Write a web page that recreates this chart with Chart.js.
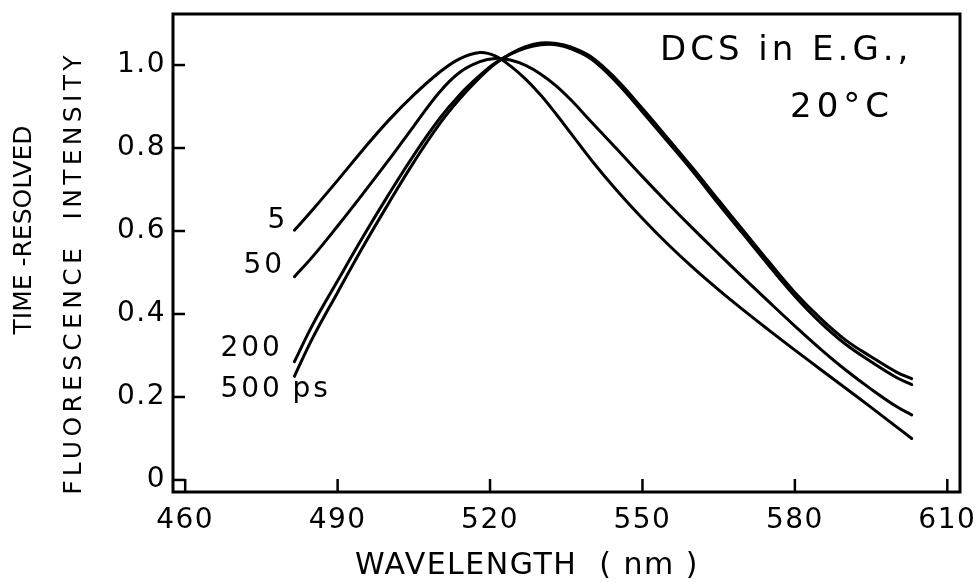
<!DOCTYPE html>
<html><head><meta charset="utf-8">
<script src="https://cdn.jsdelivr.net/npm/chart.js@4/dist/chart.umd.min.js"></script>
<style>html,body{margin:0;padding:0;background:#fff;}canvas{display:block;}</style>
</head><body>
<canvas id="c" width="977" height="582"></canvas>
<script>
// ---- data ----
const wavelengths = [481.5,485,490,495,500,505,510,514,518,521,524,527,530,533,536,540,545,550,555,560,565,570,575,580,585,590,595,600,603];
const ps5   = [0.602,0.650,0.722,0.796,0.866,0.928,0.982,1.015,1.030,1.022,0.998,0.966,0.927,0.882,0.834,0.770,0.697,0.630,0.568,0.511,0.458,0.408,0.360,0.313,0.267,0.221,0.175,0.128,0.100];
const ps50  = [0.490,0.537,0.612,0.690,0.770,0.853,0.934,0.982,1.008,1.016,1.012,0.999,0.978,0.950,0.915,0.862,0.797,0.731,0.667,0.605,0.545,0.486,0.428,0.371,0.316,0.265,0.219,0.177,0.157];
const ps200 = [0.285,0.372,0.480,0.586,0.687,0.783,0.870,0.928,0.975,1.005,1.026,1.041,1.049,1.049,1.039,1.014,0.957,0.887,0.815,0.742,0.665,0.590,0.515,0.443,0.380,0.327,0.285,0.247,0.230];
const ps500 = [0.250,0.340,0.452,0.562,0.666,0.766,0.857,0.918,0.970,1.003,1.027,1.044,1.053,1.052,1.043,1.019,0.964,0.895,0.823,0.750,0.674,0.599,0.524,0.452,0.390,0.337,0.297,0.260,0.244];
const seriesLabels = ["5","50","200","500"];
const xTicks = [460,490,520,550,580,610];
const yTicks = [0,0.2,0.4,0.6,0.8,1.0];
const yTickLabels = ["0","0.2","0.4","0.6","0.8","1.0"];
const xTitle = "WAVELENGTH  ( nm )";
const yTitle1 = "TIME -RESOLVED";
const yTitle2 = "FLUORESCENCE  INTENSITY";
const note1 = "DCS in E.G.,";
const note2 = "20°C";

const FONT = "'DejaVu Sans', sans-serif";
const mk = (arr) => wavelengths.map((w,i)=>({x:w,y:arr[i]}));
const series = [ps5, ps50, ps200, ps500];

const ds = series.map((s,i)=>({
  label: seriesLabels[i], data: mk(s), borderColor:'#000', borderWidth:3,
  pointRadius:0, fill:false, tension:0.4, cubicInterpolationMode:'default',
  borderCapStyle:'round', borderJoinStyle:'round'
}));

const decor = {
  id:'decor',
  beforeDraw(chart){ chart.ctx.letterSpacing='1.5px'; },
  afterDraw(chart){
    const ctx = chart.ctx, a = chart.chartArea;
    const xs = chart.scales.x, ys = chart.scales.y;
    ctx.save();
    ctx.strokeStyle='#000'; ctx.lineWidth=3;
    ctx.strokeRect(a.left, a.top, a.right-a.left, a.bottom-a.top);
    ctx.lineWidth=2.5;
    xTicks.forEach(v=>{const p=xs.getPixelForValue(v);ctx.beginPath();ctx.moveTo(p,a.bottom);ctx.lineTo(p,a.bottom-13);ctx.stroke();});
    yTicks.forEach(v=>{const p=ys.getPixelForValue(v);ctx.beginPath();ctx.moveTo(a.left,p);ctx.lineTo(a.left+12,p);ctx.stroke();});
    ctx.fillStyle='#000';
    // x title
    ctx.font = "30px "+FONT; ctx.textAlign='left'; ctx.textBaseline='middle';
    ctx.letterSpacing='1.5px';
    ctx.fillText(xTitle, 355, 566);
    // y titles
    ctx.textAlign='center';
    ctx.save(); ctx.translate(24,230); ctx.rotate(-Math.PI/2);
    ctx.font="25px "+FONT; ctx.letterSpacing='0px';
    ctx.fillText(yTitle1,0,0); ctx.restore();
    ctx.save(); ctx.translate(74,275); ctx.rotate(-Math.PI/2);
    ctx.font="25px "+FONT; ctx.letterSpacing='4.3px';
    ctx.fillText(yTitle2,2,0); ctx.restore();
    // annotation
    ctx.font="34px "+FONT; ctx.textAlign='left'; ctx.letterSpacing='4px';
    ctx.fillText(note1, 660, 51);
    ctx.letterSpacing='5px';
    ctx.fillText(note2, 790, 108);
    // series labels
    ctx.font="28px "+FONT; ctx.letterSpacing='3px'; ctx.textAlign='left';
    const x0 = xs.getPixelForValue(wavelengths[0]);
    ctx.fillText(seriesLabels[0], x0-27, ys.getPixelForValue(ps5[0])-9);
    ctx.fillText(seriesLabels[1], x0-51, ys.getPixelForValue(ps50[0])-11);
    ctx.fillText(seriesLabels[2], x0-74, ys.getPixelForValue(ps200[0])-13);
    ctx.fillText(seriesLabels[3], x0-74, ys.getPixelForValue(ps500[0])+13);
    ctx.fillText("ps", x0-2, ys.getPixelForValue(ps500[0])+13);
    ctx.restore();
  }
};

new Chart(document.getElementById('c'), {
  type:'line',
  data:{datasets:ds},
  options:{
    responsive:false, animation:false, devicePixelRatio:1,
    layout:{padding:{top:14,right:17,left:0,bottom:0}},
    plugins:{legend:{display:false}, tooltip:{enabled:false}},
    scales:{
      x:{type:'linear', min:457.6, max:612.5,
        afterBuildTicks:(s)=>{s.ticks = xTicks.map(v=>({value:v}));},
        afterFit:(s)=>{s.height=90; s.paddingLeft=0; s.paddingRight=0; s.paddingTop=0; s.paddingBottom=0;},
        grid:{drawOnChartArea:false, drawTicks:false},
        border:{display:false},
        ticks:{color:'#000', font:{family:FONT,size:28}, padding:12, maxRotation:0, autoSkip:false,
          callback:(v)=>String(v)}
      },
      y:{type:'linear', min:-0.029, max:1.123,
        afterBuildTicks:(s)=>{s.ticks = yTicks.map(v=>({value:v}));},
        afterFit:(s)=>{s.width=173; s.paddingLeft=0; s.paddingRight=0; s.paddingTop=0; s.paddingBottom=0;},
        grid:{drawOnChartArea:false, drawTicks:false},
        border:{display:false},
        ticks:{color:'#000', font:{family:FONT,size:28}, padding:7, autoSkip:false,
          callback:(v)=>{const i=yTicks.findIndex(t=>Math.abs(t-v)<1e-9);return i>=0?yTickLabels[i]:'';}}
      }
    }
  },
  plugins:[decor]
});
</script>
</body></html>
